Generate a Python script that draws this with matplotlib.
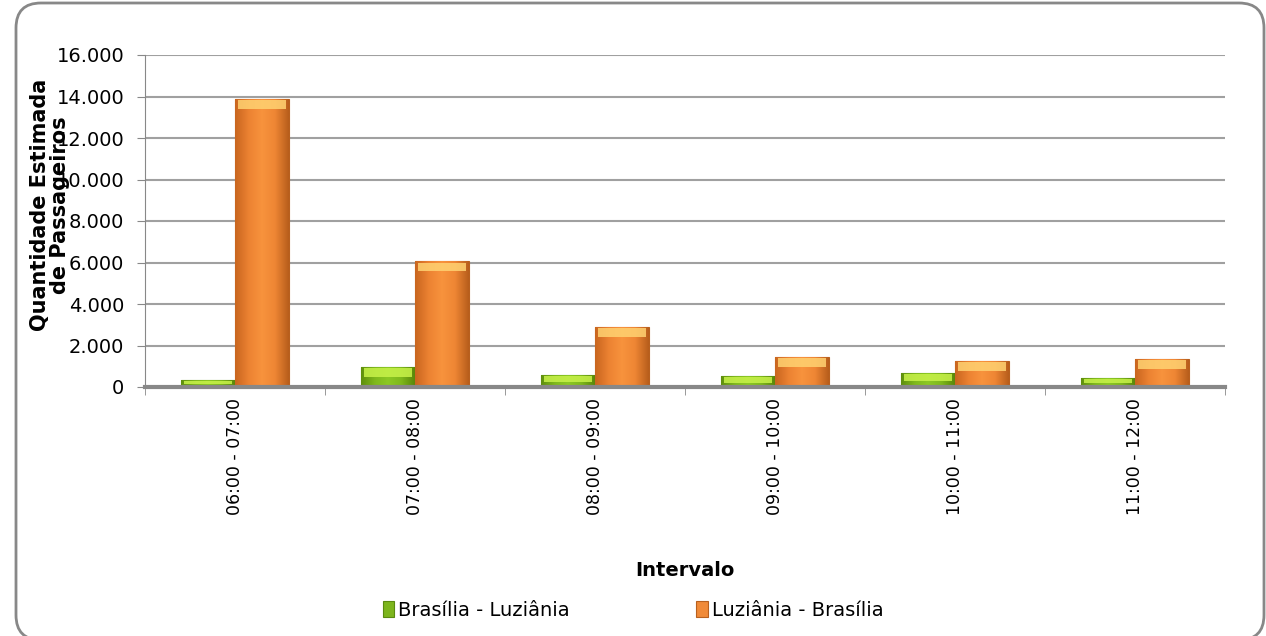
import numpy as np
import matplotlib.pyplot as plt
from matplotlib.patches import FancyBboxPatch
from matplotlib.colors import LinearSegmentedColormap

plt.rcParams['font.family'] = ['DejaVu Sans']

intervalos = ["06:00 - 07:00", "07:00 - 08:00", "08:00 - 09:00",
              "09:00 - 10:00", "10:00 - 11:00", "11:00 - 12:00"]
bsb_luz = [340, 960, 580, 530, 670, 430]
luz_bsb = [13900, 6050, 2890, 1450, 1250, 1350]
yticks = [0, 2000, 4000, 6000, 8000, 10000, 12000, 14000, 16000]

fig = plt.figure(figsize=(12.66, 6.36), dpi=100)
ax = fig.add_axes([145/1266, 1-387/636, 1080/1266, 332/636])

x = np.arange(len(intervalos))
w = 0.3
b1 = ax.bar(x - w/2, bsb_luz, w, color="#7cb51c", edgecolor="#5a8a10", lw=0.8,
            label="Brasília - Luziânia", zorder=3)
b2 = ax.bar(x + w/2, luz_bsb, w, color="#f08a38", edgecolor="#b8601e", lw=0.8,
            label="Luziânia - Brasília", zorder=3)

# shading to mimic the bevelled bars
grad = np.linspace(0, 1, 64).reshape(1, -1)
styles = [(b1, ["#5f8f0c", "#7fb81c", "#8cc824", "#7fb81c", "#5a880a"], "#c8f24a"),
          (b2, ["#c9661f", "#ec8232", "#f8933d", "#ee8634", "#b85e1c"], "#ffd272")]
for bars, cols, top in styles:
    cm = LinearSegmentedColormap.from_list("b", cols)
    for r in bars:
        x0, h, bw = r.get_x(), r.get_height(), r.get_width()
        im = ax.imshow(grad, extent=[x0, x0 + bw, 0, h], aspect="auto",
                       cmap=cm, zorder=3.5, interpolation="bicubic")
        im.set_clip_path(r)
        th = min(480, h * 0.6)
        ax.bar(x0 + bw/2, th - 60, bw * 0.9, bottom=h - th, color=top,
               lw=0, zorder=4, alpha=0.85)

ax.set_xlim(-0.5, len(intervalos) - 0.5)
ax.set_ylim(0, 16000)
ax.set_yticks(yticks)
ax.set_yticklabels([f"{v:,}".replace(",", ".") for v in yticks], fontsize=14)
ax.set_xticks(x)
ax.set_xticklabels(intervalos, rotation=90, fontsize=12.5)
ax.set_xticks(np.arange(-0.5, len(intervalos)), minor=True)
ax.tick_params(axis='x', which='major', length=0, pad=8)
ax.tick_params(axis='x', which='minor', length=6, color="#888888")
ax.tick_params(axis='y', length=6, color="#888888", direction='out', pad=9)
ax.grid(axis='y', color="#a0a0a0", lw=1.5, zorder=0)
for s in ["top", "right"]:
    ax.spines[s].set_visible(False)
ax.spines["left"].set_color("#888888")
ax.spines["bottom"].set_color("#888888")
ax.spines["bottom"].set_linewidth(3)
ax.spines["bottom"].set_zorder(5)

ax.set_xlabel("Intervalo", fontsize=14, fontweight="bold", labelpad=33)
fig.text(50/1266, 1-205/636, "Quantidade Estimada\nde Passageiros", rotation=90,
         fontsize=15, fontweight="bold", ha="center", va="center", linespacing=1.0)

ax.legend(handles=[b1, b2], loc="center", bbox_to_anchor=(0.5, 1-610/636),
          bbox_transform=fig.transFigure, ncol=2, frameon=False, fontsize=14,
          handlelength=0.6, handleheight=0.9, handletextpad=0.2, columnspacing=6.5)

border = FancyBboxPatch((0.16, -0.04), 12.48, 6.37,
                        boxstyle="round,pad=0,rounding_size=0.25",
                        transform=fig.dpi_scale_trans, fc="none", ec="#888888", lw=2)
fig.patches.append(border)

fig.savefig("out.png", dpi=100)
